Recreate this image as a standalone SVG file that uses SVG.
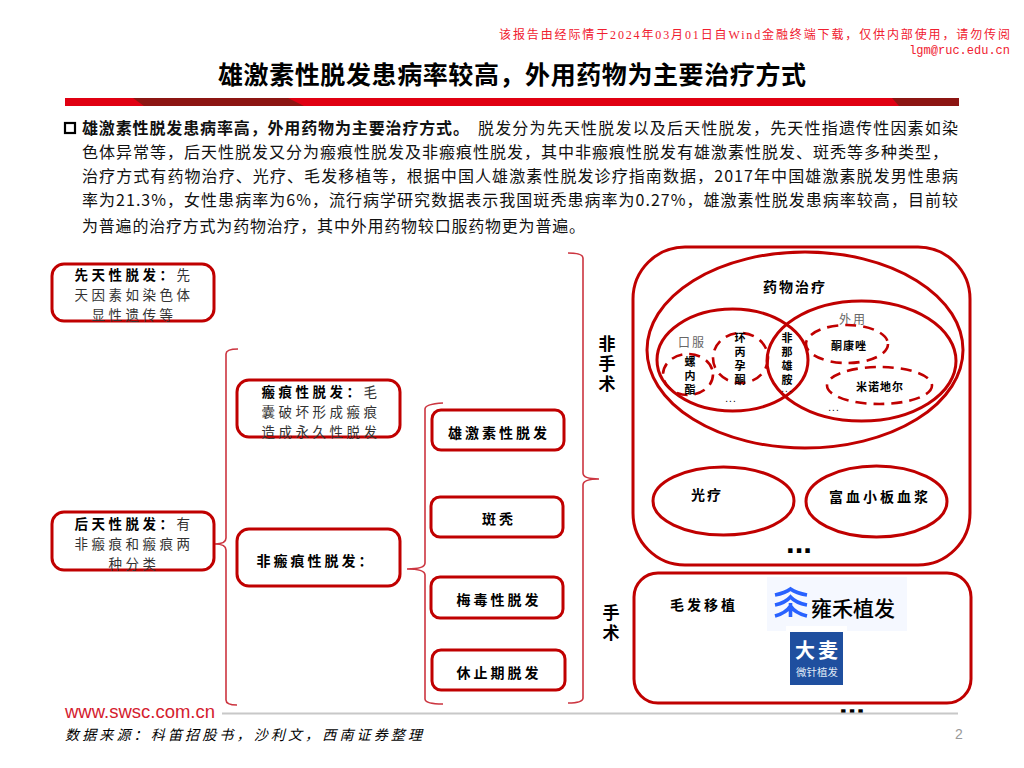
<svg xmlns="http://www.w3.org/2000/svg" width="1024" height="768" viewBox="0 0 1024 768">
<style>
text{font-family:"Noto Sans CJK SC","Noto Sans",sans-serif;fill:#000}
.box{fill:#fff;stroke:#c00000;stroke-width:3}
.ring{fill:none;stroke:#c00000;stroke-width:3}
.dash{fill:none;stroke:#c00000;stroke-width:2.6;stroke-dasharray:11 7}
.brace{fill:none;stroke:#cc3540;stroke-width:1.6}
.lbl{font-size:14px;letter-spacing:3px;text-anchor:middle;font-weight:700}
.sub{font-size:13.500px;letter-spacing:3.500px;text-anchor:middle;fill:#333}
.sm{font-size:11px;font-weight:700;text-anchor:middle;writing-mode:vertical-rl;letter-spacing:3px}
.gray{font-size:12px;letter-spacing:2px;text-anchor:middle;fill:#666}
.vert{font-size:17px;font-weight:700;text-anchor:middle;writing-mode:vertical-rl;letter-spacing:3px}
.body{font-size:16px;fill:#111}
.dots{font-family:"Liberation Sans",sans-serif;font-weight:700;font-size:31px;text-anchor:middle}
.tiny{font-family:"Liberation Sans",sans-serif;font-size:10px;text-anchor:middle;letter-spacing:1px}
.mark{font-family:"Liberation Serif","Noto Sans CJK SC",serif;font-size:12px;fill:#f02030}
</style>
<rect width="1024" height="768" fill="#fff"/>
<g id="header">
<text class="mark" x="499" y="39" textLength="511" lengthAdjust="spacing">该报告由经际情于2024年03月01日自Wind金融终端下载，仅供内部使用，请勿传阅</text>
<text class="mark" x="1010" y="54" text-anchor="end" style="font-family:'Liberation Mono',monospace">lgm@ruc.edu.cn</text>
<text x="218" y="84" font-size="25" font-weight="700" textLength="588" lengthAdjust="spacing">雄激素性脱发患病率较高，外用药物为主要治疗方式</text>
<rect x="65" y="98" width="894" height="8" fill="#e00012"/>
<polygon points="133,98 288,98 304,106 144,106" fill="#8c1512"/>
<polygon points="892,98 959,98 959,106 899,106" fill="#8c1512"/>
</g>
<g id="intro">
<rect x="65" y="123" width="10" height="10" fill="none" stroke="#000" stroke-width="2.2"/>
<text class="body" x="82" y="134" font-weight="700" textLength="387" lengthAdjust="spacing">雄激素性脱发患病率高，外用药物为主要治疗方式。</text>
<text class="body" x="478" y="134" textLength="480" lengthAdjust="spacing">脱发分为先天性脱发以及后天性脱发，先天性指遗传性因素如染</text>
<text class="body" x="82" y="158" textLength="866" lengthAdjust="spacing">色体异常等，后天性脱发又分为瘢痕性脱发及非瘢痕性脱发，其中非瘢痕性脱发有雄激素性脱发、斑秃等多种类型，</text>
<text class="body" x="82" y="182" textLength="876" lengthAdjust="spacing">治疗方式有药物治疗、光疗、毛发移植等，根据中国人雄激素性脱发诊疗指南数据，2017年中国雄激素脱发男性患病</text>
<text class="body" x="82" y="206" textLength="876" lengthAdjust="spacing">率为21.3%，女性患病率为6%，流行病学研究数据表示我国斑秃患病率为0.27%，雄激素性脱发患病率较高，目前较</text>
<text class="body" x="82" y="232" textLength="503" lengthAdjust="spacing">为普遍的治疗方式为药物治疗，其中外用药物较口服药物更为普遍。</text>
</g>
<g id="connectors">
<path class="brace" d="M238 349 Q226 349 226 354 L226 538 Q226 544 215 544 Q226 544 226 550 L226 700 Q226 705 237 705"/>
<path class="brace" d="M443 403 Q425 404 425 409 L425 563 Q425 569 407 569 Q425 569 425 575 L425 699 Q425 704 443 704"/>
<path class="brace" d="M568 253 Q583 253 583 258 L583 473 Q583 479 599 479 Q583 479 583 485 L583 698 Q583 703 568 703"/>
</g>
<g id="n-congenital"><rect class="box" x="52" y="264" width="162" height="57" rx="12"/>
<text class="sub" x="134" y="280"><tspan font-weight="700" fill="#000">先天性脱发：</tspan>先</text>
<text class="sub" x="134" y="300">天因素如染色体</text><text class="sub" x="134" y="320">显性遗传等</text></g>
<g id="n-acquired"><rect class="box" x="52" y="512" width="162" height="58" rx="12"/>
<text class="sub" x="134" y="529"><tspan font-weight="700" fill="#000">后天性脱发：</tspan>有</text>
<text class="sub" x="134" y="549">非瘢痕和瘢痕两</text><text class="sub" x="134" y="569">种分类</text></g>
<g id="n-scar"><rect class="box" x="237" y="380" width="163" height="57" rx="12"/>
<text class="sub" x="321" y="397"><tspan font-weight="700" fill="#000">瘢痕性脱发：</tspan>毛</text>
<text class="sub" x="321" y="417">囊破坏形成瘢痕</text><text class="sub" x="321" y="437">造成永久性脱发</text></g>
<g id="n-nonscar"><rect class="box" x="237" y="529" width="163" height="57" rx="12"/>
<text class="lbl" x="316" y="566">非瘢痕性脱发：</text></g>
<g id="n-aga"><rect class="box" x="432" y="410" width="132" height="40" rx="9"/><text class="lbl" x="499" y="438">雄激素性脱发</text></g>
<g id="n-aa"><rect class="box" x="431" y="497" width="132" height="40" rx="9"/><text class="lbl" x="499" y="524">斑秃</text></g>
<g id="n-syph"><rect class="box" x="431" y="577" width="132" height="41" rx="9"/><text class="lbl" x="499" y="605">梅毒性脱发</text></g>
<g id="n-te"><rect class="box" x="432" y="650" width="133" height="40" rx="9"/><text class="lbl" x="499" y="678">休止期脱发</text></g>
<g id="n-nonsurgical-label"><text class="vert" x="607" y="365">非手术</text></g>
<g id="n-surgical-label"><text class="vert" x="611" y="624">手术</text></g>
<g id="n-nonsurgical">
<rect class="ring" x="633" y="247" width="337" height="318" rx="52"/>
<ellipse class="ring" cx="805" cy="350" rx="158" ry="98"/>
<text class="lbl" x="795" y="292" font-size="15" style="letter-spacing:2px">药物治疗</text>
<ellipse class="ring" cx="732.500" cy="360" rx="75.500" ry="51"/>
<ellipse class="ring" cx="861.500" cy="361" rx="94.500" ry="60"/>
<text class="gray" x="853" y="324">外用</text><text class="gray" x="692" y="347">口服</text>
<ellipse class="dash" cx="688" cy="374.500" rx="25" ry="20.500"/>
<ellipse class="dash" cx="740.500" cy="358" rx="27.500" ry="25"/>
<ellipse class="dash" cx="847" cy="344" rx="41" ry="19"/>
<ellipse class="dash" cx="879.500" cy="385.500" rx="52.500" ry="18.500"/>
<text class="sm" x="690" y="377">螺内酯</text>
<text class="sm" x="740" y="360">环丙孕酮</text>
<text class="sm" x="787" y="360">非那雄胺</text>
<text class="sm" x="849" y="350" style="letter-spacing:1px;writing-mode:horizontal-tb">酮康唑</text>
<text class="sm" x="880" y="391" style="letter-spacing:1px;writing-mode:horizontal-tb">米诺地尔</text>
<text class="tiny" x="731" y="402">...</text><text class="tiny" x="787" y="392">...</text><text class="tiny" x="834" y="411">...</text>
<ellipse class="ring" cx="723.500" cy="501" rx="70.500" ry="34"/>
<ellipse class="ring" cx="876.500" cy="501.500" rx="70.500" ry="35.500"/>
<text class="lbl" x="707" y="500" style="letter-spacing:2px">光疗</text>
<text class="lbl" x="880" y="502">富血小板血浆</text>
<text class="dots" x="799" y="553">...</text>
</g>
<g id="n-surgical">
<rect class="ring" x="634" y="573" width="337" height="130" rx="24"/>
<text class="lbl" x="704" y="610">毛发移植</text>
<rect x="767" y="577" width="140" height="54" fill="#f5f8ff"/>
<path d="M775 595 Q785 593 790.500 589 Q796 593 807 595 M775 605 Q785 603 790.500 597 Q796 603 807 605 M775 616 Q786 613 790.500 606 Q795 613 807 616 M790.500 603 V617" fill="none" stroke="#2962ff" stroke-width="3.600"/>
<text x="853" y="616" font-size="21" font-weight="500" text-anchor="middle" fill="#333">雍禾植发</text>
<rect x="786" y="626" width="61" height="65" fill="#fff"/>
<rect x="790" y="632" width="53" height="53" fill="#1f4f9f"/>
<text x="818" y="657.500" font-size="20" font-weight="700" text-anchor="middle" style="fill:#fff;letter-spacing:3px">大麦</text>
<text x="817" y="675.500" font-size="10.500" text-anchor="middle" style="fill:#dfe8f5">微针植发</text>
<text class="dots" x="852" y="714">...</text>
</g>
<g id="footer">
<text x="65" y="718" font-size="17.500" textLength="150" lengthAdjust="spacingAndGlyphs" style="font-family:'Liberation Sans',sans-serif;fill:#d4202e">www.swsc.com.cn</text>
<rect x="222" y="712.500" width="736" height="2" fill="#c8c8c8"/>
<text x="65" y="740" font-size="14" font-style="italic" textLength="357" lengthAdjust="spacing" fill="#222">数据来源：科笛招股书，沙利文，西南证券整理</text>
<text x="959" y="739" font-size="14" text-anchor="middle" style="font-family:'Liberation Sans',sans-serif;fill:#999">2</text>
</g>
</svg>
